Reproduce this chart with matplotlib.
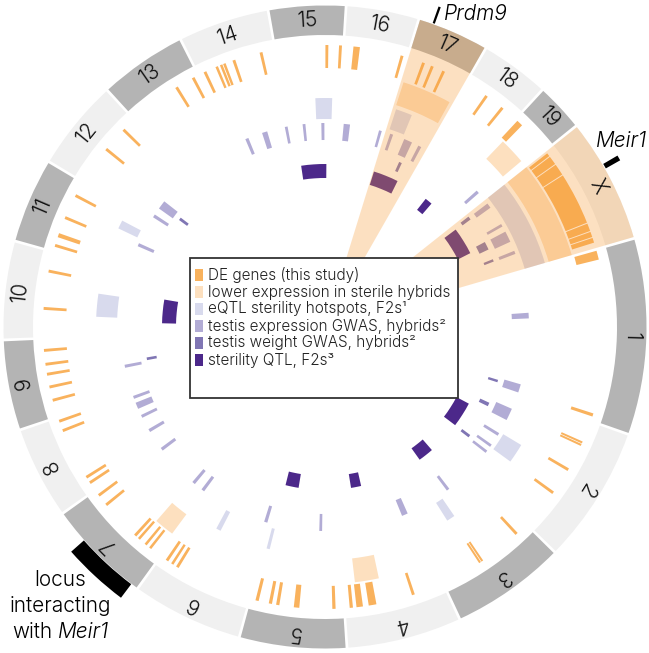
import numpy as np
import matplotlib
matplotlib.use('Agg')
import matplotlib.pyplot as plt
from matplotlib.patches import Wedge, Rectangle

plt.rcParams['font.family'] = ['Inter', 'DejaVu Sans']
plt.rcParams['font.weight'] = 300

# ---------------- data ----------------
chrom_names = ['1', '2', '3', '4', '5', '6', '7', '8', '9', '10', '11', '12',
               '13', '14', '15', '16', '17', '18', '19', 'X']
chrom_sizes = [265, 185, 154, 154, 143, 149, 140, 123, 120, 131, 113, 121,
               117, 121, 102, 96, 95, 91, 63, 168]
highlight_chroms = ['17', 'X']

# (chromosome, start Mb, end Mb)
de_genes = [
    ('1', 0.5, 14.5), ('1', 254.5, 259.5),
    ('2', 32, 35.2), ('2', 36.2, 39.4), ('2', 78.5, 83), ('2', 121, 125.5),
    ('3', 17, 21.5), ('3', 85, 88.2), ('3', 89.2, 92.4),
    ('4', 45, 49.5), ('4', 106, 118), ('4', 127, 137), ('4', 142.5, 147.5),
    ('5', 11.5, 16.5), ('5', 67.5, 76), ('5', 98.5, 103.5), ('5', 110, 115), ('5', 131, 136),
    ('6', 118, 122.5), ('6', 127.5, 131.5), ('6', 137, 141.5),
    ('7', 16.5, 20.5), ('7', 25.5, 29.5), ('7', 39, 43), ('7', 46.5, 51),
    ('7', 111.5, 116), ('7', 130, 134.5),
    ('8', 10, 14.5), ('8', 20, 24.5), ('8', 100.5, 105), ('8', 116, 120.5),
    ('9', 23, 27.5), ('9', 44, 48.5), ('9', 64, 68.5), ('9', 79.5, 84), ('9', 101, 105.5),
    ('10', 42, 46.5), ('10', 100, 104.5),
    ('11', 6, 10.5), ('11', 21.5, 28), ('11', 51.5, 56), ('11', 89, 93.5),
    ('12', 58, 62.5), ('12', 98, 102.5),
    ('13', 78, 82.5), ('13', 107.5, 112),
    ('14', 7, 11.5), ('14', 27, 31), ('14', 34.4, 38.4), ('14', 39.7, 43.7),
    ('14', 55, 59.5), ('14', 98.5, 103),
    ('15', 76, 80.5), ('15', 97, 101.5),
    ('16', 13.5, 23.5), ('16', 87.5, 92),
    ('17', 22.5, 27), ('17', 37, 41.5), ('17', 56, 60.5),
    ('18', 33.5, 38), ('18', 64, 68.5),
    ('19', 2, 12),
    ('X', 3.2, 8.5), ('X', 10, 23.6), ('X', 25.1, 43.3), ('X', 44.8, 126.6),
    ('X', 128.2, 140.3), ('X', 141.8, 150.1), ('X', 151.6, 159.2),
]

lower_expression = [
    ('4', 94, 135), ('7', 4.7, 38.8), ('17', 4.5, 89.3), ('19', 7.9, 53.3), ('X', 0, 168),
]

eqtl_hotspots = [
    ('2', 85.5, 123), ('3', 83, 99), ('5', 133.7, 139.8), ('6', 86.6, 95.7),
    ('10', 35, 79), ('11', 74, 90.5), ('15', 57, 89), ('17', 6.7, 38.5), ('X', 0, 168),
]

testis_expression_gwas = [
    ('1', 89, 101), ('1', 243, 261),
    ('2', 29.6, 56), ('2', 88, 94.5), ('2', 117, 123), ('2', 133, 139),
    ('3', 59, 65.5), ('4', 4.5, 17.5), ('5', 34, 40), ('6', 5.5, 12.5),
    ('7', 3.5, 10.5), ('7', 28.5, 35.5), ('7', 127.5, 134.5),
    ('8', 31.5, 38.5), ('8', 66, 72.5), ('8', 87, 101), ('8', 110, 116.5),
    ('9', 52, 58.5), ('11', 57.5, 64.5), ('12', 10.5, 17.5), ('12', 33, 52),
    ('14', 26, 33), ('14', 64, 75.4), ('14', 114, 120),
    ('15', 27.5, 33.5), ('15', 67.5, 74),
    ('16', 9.5, 23), ('16', 86, 92),
    ('17', 11, 17.5), ('17', 43, 61), ('17', 76, 83),
    ('19', 40, 47),
    ('X', 9, 20), ('X', 61.5, 67.5), ('X', 80, 104), ('X', 125, 132),
]

testis_weight_gwas = [
    ('1', 248, 254), ('2', 38, 47), ('2', 128, 135), ('9', 59.5, 66),
    ('12', 38.5, 45.5), ('17', 53, 60),
    ('X', 6.5, 15), ('X', 79, 99), ('X', 124.5, 130.5),
]

sterility_qtl = [
    ('2', 63, 131), ('3', 33, 74.6), ('4', 88.6, 116), ('5', 98.5, 134),
    ('10', 25.5, 89), ('15', 11.6, 79), ('17', 2.2, 70), ('18', 60, 80), ('X', 13, 87),
]

meir1_locus = ('7', 8.5, 95.5)
prdm9_mark = ('17', 17.5, 20.5)
meir1_mark = ('X', 61, 68)

legend_labels = ['DE genes (this study)',
                 'lower expression in sterile hybrids',
                 'eQTL sterility hotspots, F2s\u00b9',
                 'testis expression GWAS, hybrids\u00b2',
                 'testis weight GWAS, hybrids\u00b2',
                 'sterility QTL, F2s\u00b3']

# ---------------- style ----------------
C_DARK = '#b4b4b4'
C_LIGHT = '#f0f0f0'
C_DE = '#f9b25d'
C_LOW = '#fde0bf'
C_EQTL = '#d8daed'
C_TEXPR = '#b2acd5'
C_TWT = '#8076b4'
C_QTL = '#4c288a'
C_HL = '#f89b34'
legend_colors = [C_DE, C_LOW, C_EQTL, C_TEXPR, C_TWT, C_QTL]

W, H = 649, 653
fig = plt.figure(figsize=(W / 100, H / 100), dpi=100)
ax = fig.add_axes([0, 0, 1, 1])
ax.set_xlim(0, W)
ax.set_ylim(0, H)
ax.axis('off')

CX, CY = 325, 326
START = 74.25
GAP = 0.5
k = (360 - GAP * len(chrom_sizes)) / sum(chrom_sizes)
starts = {}
a = START
for n, s in zip(chrom_names, chrom_sizes):
    starts[n] = a
    a += s * k + GAP
sizes = dict(zip(chrom_names, chrom_sizes))


def comp(ch, pos):
    return starts[ch] + pos * k


def arc(ch, s, e, r0, r1, color, z=2, **kw):
    t0, t1 = comp(ch, s), comp(ch, e)
    ax.add_patch(Wedge((CX, CY), r1, 90 - t1, 90 - t0, width=r1 - r0,
                       facecolor=color, edgecolor='none', zorder=z, **kw))


R_BAND = (292, 321.5)
R_DE = (259, 282)
R_LOW = (233, 257)
R_EQTL = (208, 229)
R_TEXPR = (187, 204)
R_TWT = (171, 181)
R_QTL = (149, 163)

# chromosome bands
for i, n in enumerate(chrom_names):
    col = C_DARK if (i % 2 == 0 and n != 'X') else C_LIGHT
    arc(n, 0, sizes[n], *R_BAND, col, z=1)
    mid = comp(n, sizes[n] / 2)
    rr = 307
    x = CX + rr * np.sin(np.radians(mid))
    y = CY + rr * np.cos(np.radians(mid))
    ax.text(x, y, n, rotation=-mid, rotation_mode='anchor', ha='center', va='center',
            fontsize=15, color='#111111', zorder=6)

for track, rad, col in [(lower_expression, R_LOW, C_LOW), (eqtl_hotspots, R_EQTL, C_EQTL),
                        (de_genes, R_DE, C_DE), (testis_expression_gwas, R_TEXPR, C_TEXPR),
                        (testis_weight_gwas, R_TWT, C_TWT), (sterility_qtl, R_QTL, C_QTL)]:
    for ch, s, e in track:
        arc(ch, s, e, *rad, col)

# highlight wedges over chr17 and X
for n in highlight_chroms:
    arc(n, 0, sizes[n], 0, R_BAND[1], C_HL, z=5, alpha=0.3)

# black marks
arc(*meir1_locus, 322, 339, 'black', z=7)
arc(*prdm9_mark, 322.5, 340, 'black', z=7)
arc(*meir1_mark, 322.5, 339, 'black', z=7)

ax.text(444, 633, 'Prdm9', style='italic', fontsize=15, ha='left', va='baseline')
ax.text(596, 506, 'Meir1', style='italic', fontsize=15, ha='left', va='baseline')
ax.text(60, 653 - 586, 'locus', fontsize=15, ha='center', va='baseline')
ax.text(60, 653 - 612, 'interacting', fontsize=15, ha='center', va='baseline')
t_with = ax.text(0, 653 - 638, 'with', fontsize=15, ha='left', va='baseline')
t_meir = ax.text(0, 653 - 638, 'Meir1', style='italic', fontsize=15, ha='left', va='baseline')
fig.canvas.draw()
r = fig.canvas.get_renderer()
w1 = t_with.get_window_extent(r).width
w2 = t_meir.get_window_extent(r).width
sp = 0.27 * 15 * 100 / 72
x0 = 61 - (w1 + sp + w2) / 2
t_with.set_x(x0)
t_meir.set_x(x0 + w1 + sp)

# legend
ax.add_patch(Rectangle((190, 255), 268, 140, facecolor='white', edgecolor='#333333',
                       lw=1.3, zorder=10))
for i, (lab, col) in enumerate(zip(legend_labels, legend_colors)):
    yc = 378 - i * 17
    ax.add_patch(Rectangle((195, yc - 6), 8, 12, facecolor=col, edgecolor='none', zorder=11))
    ax.text(208, yc, lab, fontsize=11, ha='left', va='center', color='#222222', zorder=11)

fig.savefig('out.png', dpi=100)
